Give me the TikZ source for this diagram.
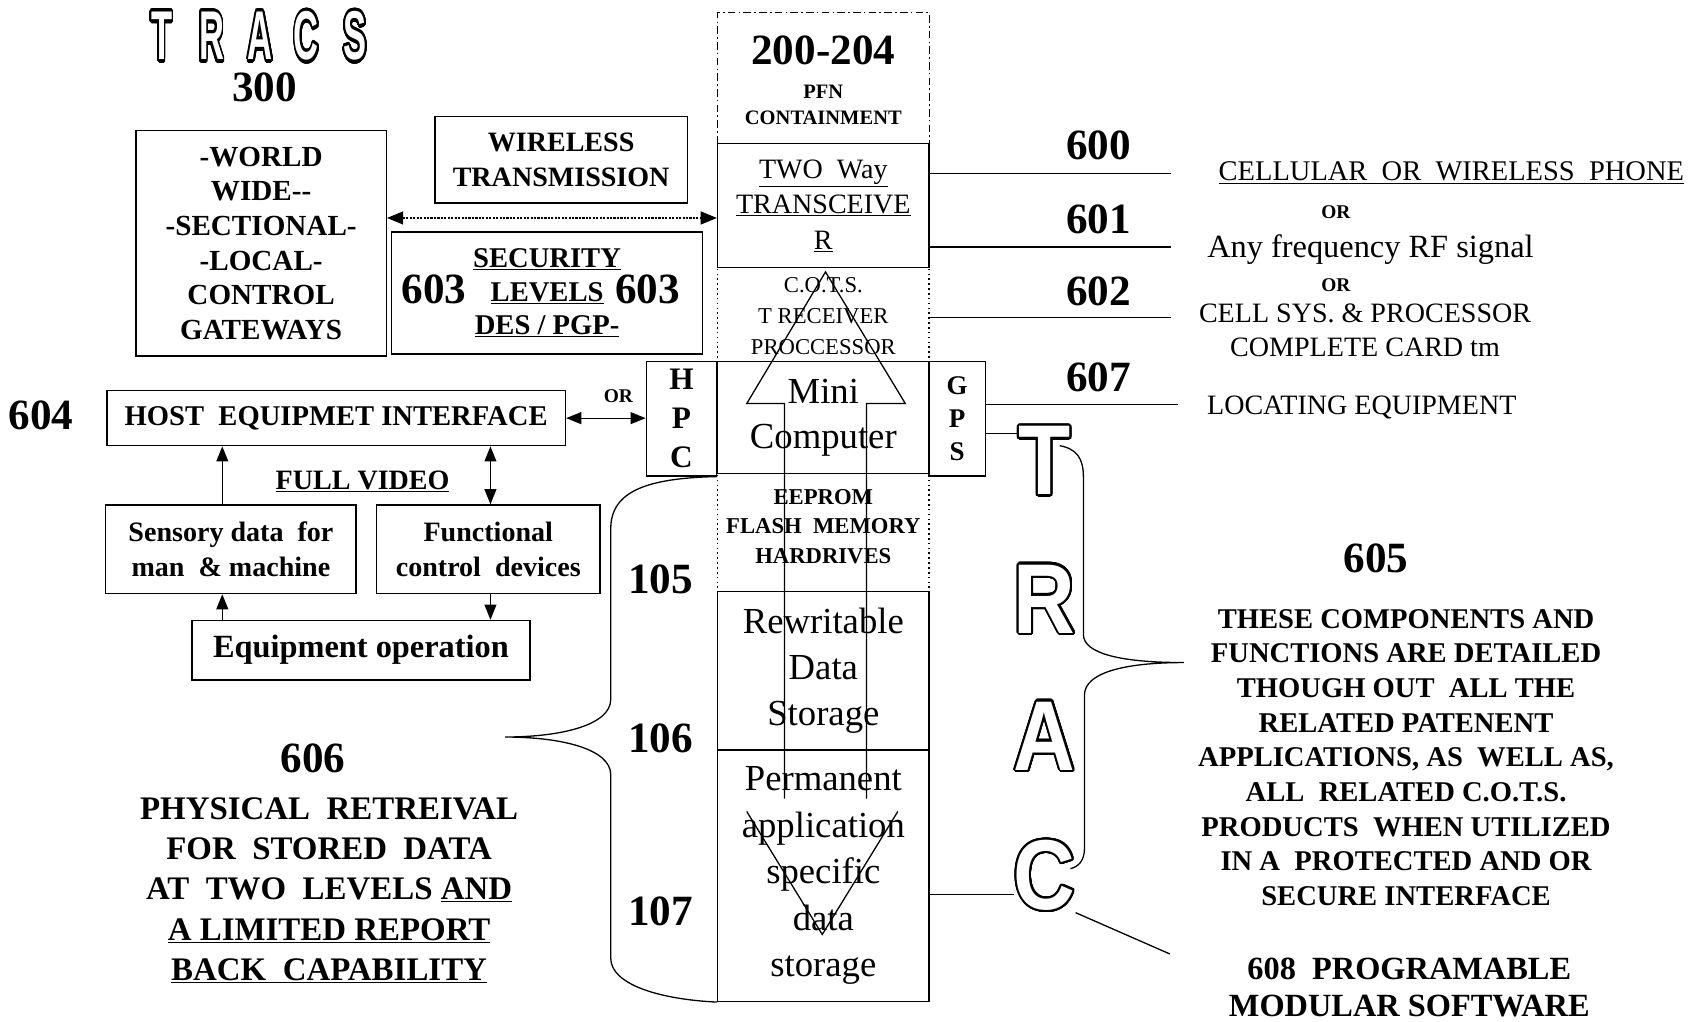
\documentclass[tikz,border=0pt]{standalone}
\usepackage{fontspec}
\setmainfont{Liberation Serif}
\setsansfont{Liberation Sans}
\usepackage{graphicx}
\usepackage{contour}
\contournumber{32}
\usetikzlibrary{arrows.meta}

\newcommand{\hollow}[2][1.3pt]{{\contourlength{#1}\textcolor{white}{\contour{black}{#2}}}}

\tikzset{
  blockbox/.style={draw, line width=1.3pt, inner sep=0pt, align=center},
  reflabel/.style={font=\fontsize{40}{40}\selectfont\bfseries, inner sep=0pt},
  orlab/.style={font=\fontsize{18}{18}\selectfont\bfseries, inner sep=0pt},
  hollowsmall/.style={font=\fontsize{64}{64}\selectfont\sffamily\bfseries, inner sep=0pt},
  hollowbig/.style={font=\fontsize{92}{92}\selectfont\sffamily\bfseries, inner sep=0pt},
  thinline/.style={line width=1.2pt},
  arr/.style={line width=1.2pt, -{Triangle[length=14pt,width=11pt]}},
  dblarr/.style={line width=1.2pt, {Triangle[length=14pt,width=11pt]}-{Triangle[length=14pt,width=11pt]}},
  linkarr/.style={line width=1.4pt, dash pattern=on 2pt off 1.2pt, {Triangle[length=15pt,width=12pt]}-{Triangle[length=15pt,width=12pt]}},
  dashdotline/.style={line width=1pt, dash pattern=on 7pt off 3pt on 1.5pt off 3pt},
  dotline/.style={line width=1.2pt, dash pattern=on 1.5pt off 3pt}
}

\begin{document}
\begin{tikzpicture}[x=1pt, y=-1pt]
  \useasboundingbox (0,0) rectangle (1568,947);
  \fill[white] (0,0) rectangle (1568,947);
  % ── title ────────────────────────────────────────────────────────────────
  \foreach \l/\x in {T/150,R/196,A/241,C/284,S/329} {
    \node[hollowsmall] (title\l) at (\x,35) {\scalebox{0.5}[1]{\hollow[3pt]{\l}}};
  }
  \node[reflabel] (n300) at (245,81) {300};
  % ── gateways, wireless, security ─────────────────────────────────────────
  \node[blockbox, minimum width=232pt, minimum height=209pt,
        font=\fontsize{27}{32}\selectfont\bfseries] (world) at (242,225.5)
        {-WORLD\\WIDE{-}{-}\\-SECTIONAL-\\-LOCAL-\\CONTROL\\GATEWAYS};
  \node[blockbox, minimum width=234pt, minimum height=80pt,
        font=\fontsize{26}{32}\selectfont\bfseries] (wireless) at (520,148)
        {WIRELESS\\TRANSMISSION};
  \node[blockbox, minimum width=288pt, minimum height=113pt,
        font=\fontsize{26.5}{31}\selectfont\bfseries] (secbox) at (507,271.5)
        {\underline{SECURITY}\\\underline{LEVELS}\\\underline{DES / PGP-}};
  \node[reflabel] (sec603l) at (402,268) {603};
  \node[reflabel] (sec603r) at (600,268) {603};
  % ── central column ───────────────────────────────────────────────────────
  \draw[dashdotline] (665,133) -- (665,12) -- (861,12) -- (861,133);
  \node[reflabel] (n200) at (763,47) {200-204};
  \node[font=\fontsize{19}{24}\selectfont\bfseries, align=center] (pfn) at (763,97)
        {PFN\\CONTAINMENT};
  \node[blockbox, minimum width=196pt, minimum height=115pt,
        font=\fontsize{26}{33}\selectfont] (trans) at (763,190.5)
        {\underline{TWO\ \ Way}\\\underline{TRANSCEIVE}\\\underline{R}};
  \draw[dotline] (665,249) -- (665,336);
  \draw[dotline] (861,249) -- (861,336);
  \node[font=\fontsize{21}{29}\selectfont, align=center] (cots) at (763,293)
        {C.O.T.S.\\T RECEIVER\\PROCCESSOR};
  \node[blockbox, minimum width=196pt, minimum height=104pt,
        font=\fontsize{34}{42}\selectfont] (mini) at (763,387) {Mini\\Computer};
  \node[blockbox, minimum width=65pt, minimum height=106pt,
        font=\fontsize{29}{36}\selectfont\bfseries] (hpc) at (631.5,388) {H\\P\\C};
  \node[blockbox, minimum width=52pt, minimum height=106pt,
        font=\fontsize{25}{31}\selectfont\bfseries] (gps) at (887,388) {G\\P\\S};
  \draw[dotline] (665,440) -- (665,548);
  \draw[dotline] (861,440) -- (861,548);
  \node[font=\fontsize{21}{27}\selectfont\bfseries, align=center] (eeprom) at (763,488)
        {EEPROM\\FLASH\ \ MEMORY\\HARDRIVES};
  \node[blockbox, minimum width=196pt, minimum height=147pt,
        font=\fontsize{34}{43}\selectfont] (rewrite) at (763,621.5)
        {Rewritable\\Data\\Storage};
  \node[blockbox, minimum width=196pt, minimum height=233pt,
        font=\fontsize{34}{43}\selectfont] (perm) at (763,811.5)
        {Permanent\\application\\specific\\data\\storage};
  % ── up / down block arrow ────────────────────────────────────────────────
  \draw[thinline] (727,740) -- (727,374) -- (692,374) -- (765,252)
        -- (839,374) -- (803,374) -- (803,740);
  \draw[thinline] (692,752) -- (762,866) -- (832,752);
  \node[reflabel] (n105) at (612,537) {105};
  \node[reflabel] (n106) at (612,684) {106};
  \node[reflabel] (n107) at (612,845) {107};
  % ── link to gateways ─────────────────────────────────────────────────────
  \coordinate (linkrow) at (0,202);
  \draw[linkarr] (world.east |- linkrow) -- (trans.west |- linkrow);
  % ── right side outputs ───────────────────────────────────────────────────
  \node[reflabel] (n600) at (1018,135) {600};
  \node[reflabel] (n601) at (1018,203) {601};
  \node[reflabel] (n602) at (1018,270) {602};
  \node[reflabel] (n607) at (1018,350) {607};
  \coordinate (e600) at (1085,161);
  \coordinate (e601) at (1085,229);
  \coordinate (e602) at (1085,294);
  \coordinate (e607) at (1092,375);
  \draw[thinline] (trans.east |- e600) -- (e600);
  \draw[thinline] (trans.east |- e601) -- (e601);
  \draw[thinline] (trans.east |- e602) -- (e602);
  \draw[thinline] (gps.east |- e607) -- (e607);
  \node[font=\fontsize{26.4}{26}\selectfont] (cell) at (1345,160)
        {\underline{CELLULAR\ \ OR\ \ WIRELESS\ \ PHONE}};
  \node[orlab] (or1) at (1238,197) {OR};
  \node[font=\fontsize{30}{30}\selectfont] (anyrf) at (1270,231) {Any frequency RF signal};
  \node[orlab] (or2) at (1238,264) {OR};
  \node[font=\fontsize{26}{32}\selectfont, align=center] (cellsys) at (1265,306)
        {CELL SYS. \& PROCESSOR\\COMPLETE CARD tm};
  \node[font=\fontsize{26}{26}\selectfont] (locate) at (1262,378) {LOCATING EQUIPMENT};
  % ── host equipment side ──────────────────────────────────────────────────
  \node[reflabel] (n604) at (38,385) {604};
  \node[blockbox, minimum width=425pt, minimum height=51pt,
        font=\fontsize{26.5}{26}\selectfont\bfseries] (host) at (311.5,387.5)
        {HOST\ \ EQUIPMET INTERFACE};
  \node[orlab] (or3) at (573,367) {OR};
  \draw[dblarr] (host.east) -- (hpc.west |- host.east);
  \node[font=\fontsize{26}{26}\selectfont\bfseries] (video) at (336,446) {\underline{FULL VIDEO}};
  \node[blockbox, minimum width=232pt, minimum height=82pt,
        font=\fontsize{26}{32}\selectfont\bfseries] (sensory) at (214,509)
        {Sensory data\ \ for\\man\ \ \& machine};
  \node[blockbox, minimum width=207pt, minimum height=82pt,
        font=\fontsize{26}{32}\selectfont\bfseries] (func) at (452.5,509)
        {Functional\\control\ \ devices};
  \node[blockbox, minimum width=313pt, minimum height=55pt,
        font=\fontsize{30}{30}\selectfont\bfseries] (equip) at (334.5,602.5)
        {Equipment operation};
  \draw[arr] ([xshift=-8pt]sensory.north) -- ([xshift=-8pt]sensory.north |- host.south);
  \draw[dblarr] ([xshift=2pt]func.north) -- ([xshift=2pt]func.north |- host.south);
  \draw[arr] ([xshift=-8pt]sensory.south |- equip.north) -- ([xshift=-8pt]sensory.south);
  \draw[arr] ([xshift=2pt]func.south) -- ([xshift=2pt]func.south |- equip.north);
  % ── left brace and 606 ───────────────────────────────────────────────────
  \coordinate (lbtip) at (468,683);
  \draw[thinline] (hpc.south east) .. controls (600,443) and (566,455) .. (566,490)
        -- (566,648) .. controls (566,672) and (520,683) .. (lbtip)
        .. controls (520,683) and (566,694) .. (566,718)
        -- (566,888) .. controls (566,912) and (610,926) .. (perm.south west);
  \node[reflabel] (n606) at (290,703) {606};
  \node[font=\fontsize{30.5}{37.3}\selectfont\bfseries, align=center] (retr) at (305,825)
        {PHYSICAL\ \ RETREIVAL\\FOR\ \ STORED\ \ DATA\\AT\ \ TWO\ \ LEVELS \underline{AND}\\
         \underline{A LIMITED REPORT}\\\underline{BACK\ \ CAPABILITY}};
  % ── TRAC letters and right brace ─────────────────────────────────────────
  \foreach \l/\y in {T/428,R/556,A/683,C/812} {
    \node[hollowbig] (big\l) at (968,\y) {\scalebox{0.86}[1]{\hollow[2pt]{\l}}};
  }
  \coordinate (tline) at (0,402);
  \draw[thinline] (gps.east |- tline) -- (bigT.west |- tline);
  \coordinate (cline) at (0,829);
  \draw[thinline] (perm.east |- cline) -- (bigC.west |- cline);
  \coordinate (c608) at (1084,884);
  \draw[thinline] (bigC.south east) -- (c608);
  \coordinate (rbtop) at (982,413);
  \coordinate (rbtip) at (1097,614);
  \coordinate (rbbot) at (992,805);
  \draw[thinline] (rbtop) .. controls (998,416) and (1004,425) .. (1004,442)
        -- (1004,588) .. controls (1004,606) and (1040,614) .. (rbtip)
        .. controls (1040,614) and (1005,624) .. (1005,644)
        -- (1005,786) .. controls (1005,797) and (1000,803) .. (rbbot);
  % ── 605 and 608 ──────────────────────────────────────────────────────────
  \node[reflabel] (n605) at (1275,517) {605};
  \node[font=\fontsize{26.5}{32.1}\selectfont\bfseries, align=center] (detail) at (1303,702)
        {THESE COMPONENTS AND\\FUNCTIONS ARE DETAILED\\THOUGH OUT\ \ ALL THE\\
         RELATED PATENENT\\APPLICATIONS, AS\ \ WELL AS,\\ALL\ \ RELATED C.O.T.S.\\
         PRODUCTS\ \ WHEN UTILIZED\\IN A\ \ PROTECTED AND OR\\SECURE INTERFACE};
  \node[font=\fontsize{30}{35}\selectfont\bfseries, align=center] (soft) at (1306,915)
        {608\ \ PROGRAMABLE\\MODULAR SOFTWARE};
\end{tikzpicture}
\end{document}
